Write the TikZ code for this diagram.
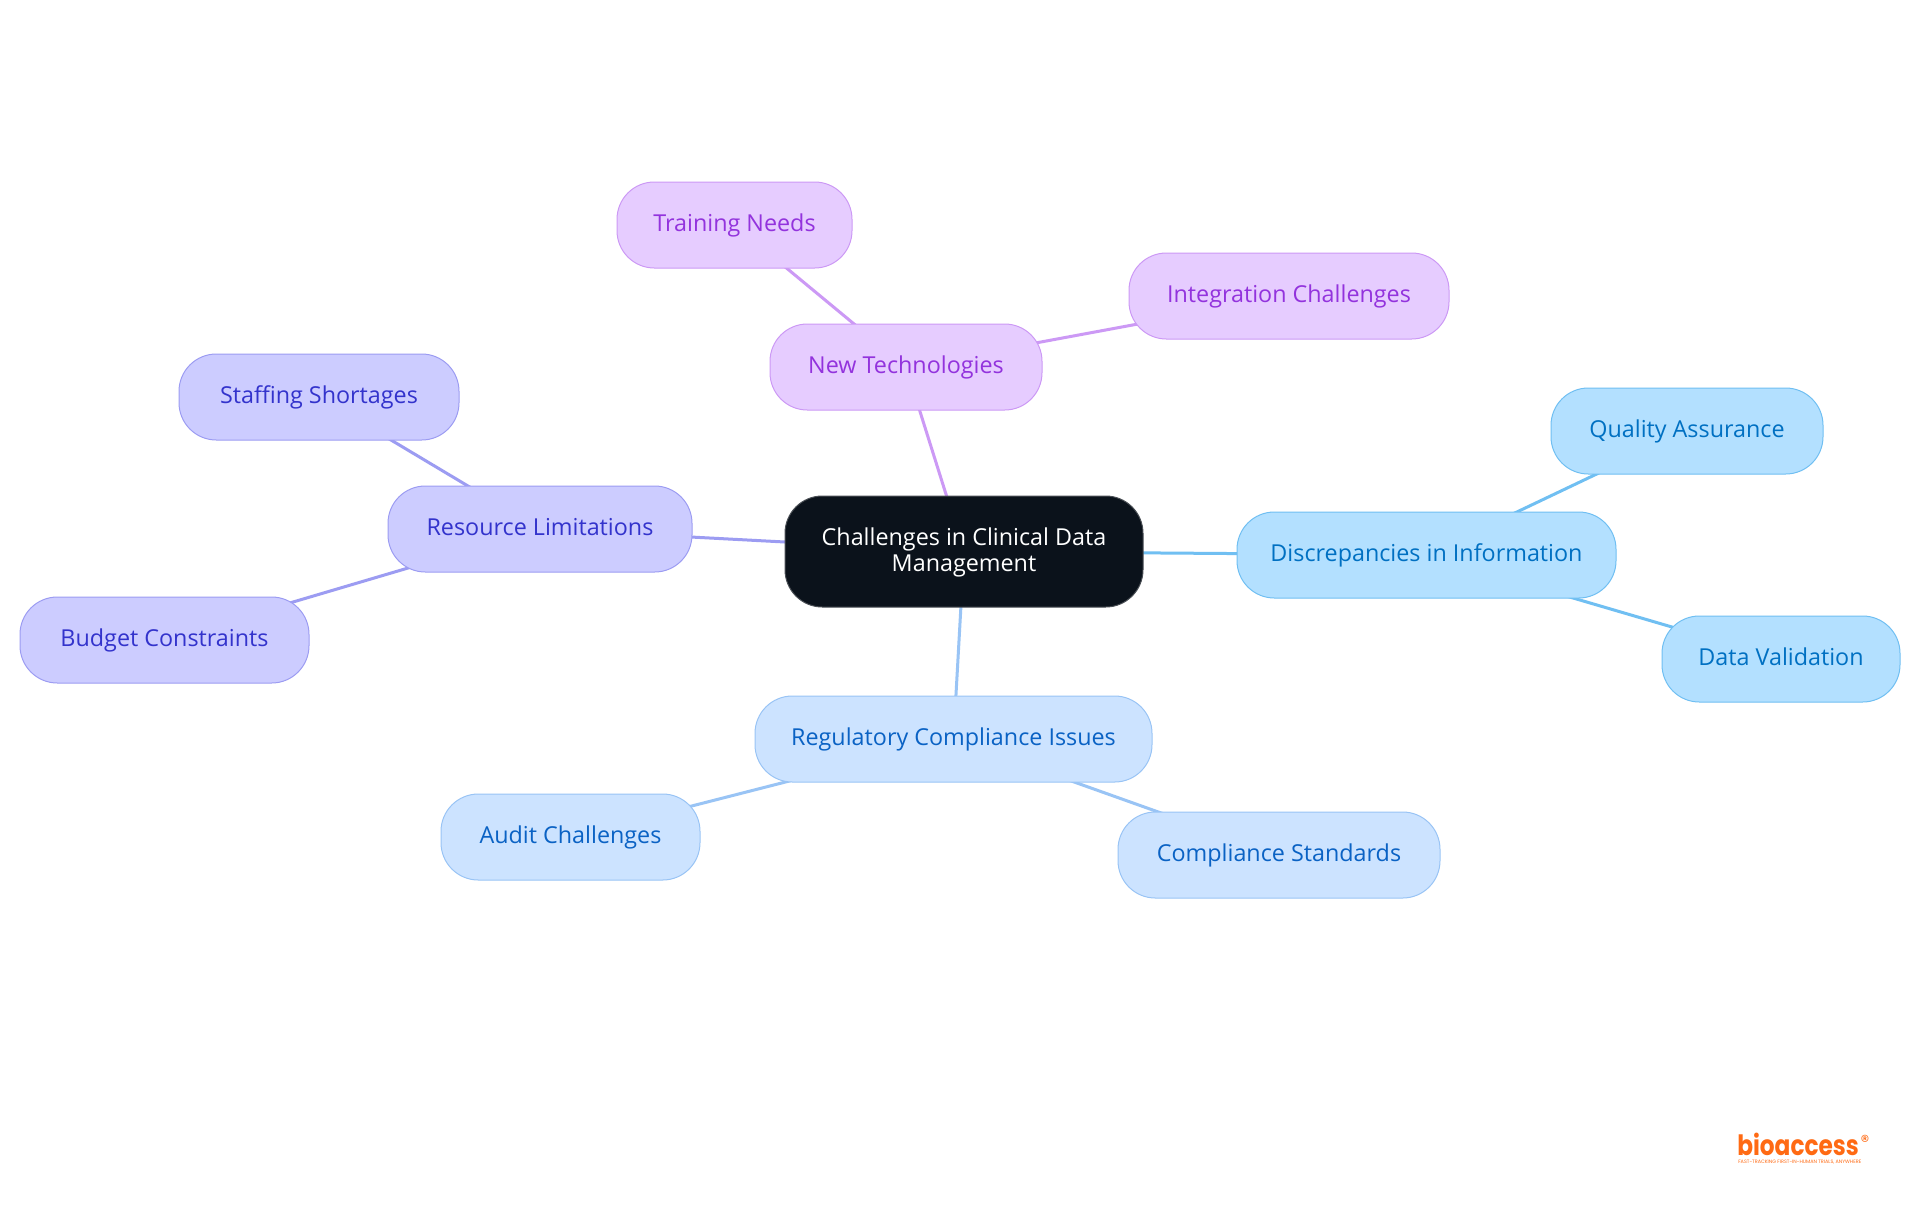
\documentclass[tikz,border=0pt]{standalone}
\usepackage{fontspec}
\setmainfont{Open Sans}
\newfontfamily\logofont{Poppins}
\usetikzlibrary{backgrounds}
\definecolor{rootfill}{HTML}{0B121B}
\definecolor{rootline}{HTML}{4A4F55}
\definecolor{pfill}{HTML}{E6CCFF}
\definecolor{pline}{HTML}{CC99F5}
\definecolor{ptext}{HTML}{9333DD}
\definecolor{ifill}{HTML}{CCCCFF}
\definecolor{iline}{HTML}{9C9CF2}
\definecolor{itext}{HTML}{3333CC}
\definecolor{sfill}{HTML}{B3E0FF}
\definecolor{sline}{HTML}{70BFF2}
\definecolor{stext}{HTML}{0070C2}
\definecolor{bfill}{HTML}{CCE3FF}
\definecolor{bline}{HTML}{99C4F5}
\definecolor{btext}{HTML}{0A62C4}
\definecolor{logoc}{HTML}{FF6A13}
\tikzset{
  x=0.75pt,y=-0.75pt,
  box/.style={rectangle,rounded corners=28pt,inner sep=0pt,line width=0.75pt,align=center,
    text height=9.8pt,text depth=0pt,
    font=\fontsize{17.5}{19.5}\selectfont},
  rootbox/.style={box,fill=rootfill,draw=rootline,text=white,text height=29.3pt},
  pbox/.style={box,fill=pfill,draw=pline,text=ptext},
  ibox/.style={box,fill=ifill,draw=iline,text=itext},
  sbox/.style={box,fill=sfill,draw=sline,text=stext},
  bbox/.style={box,fill=bfill,draw=bline,text=btext},
  wire/.style={line width=2.25pt}
}
\newcommand{\boxat}[7]{% style,name,x1,y1,x2,y2,text
  \pgfmathsetmacro{\bw}{(#5-#3)*0.75}\pgfmathsetmacro{\bh}{(#6-#4)*0.75}
  \node[#1,minimum width=\bw pt,minimum height=\bh pt] (#2) at ({(#3+#5)/2},{(#4+#6)/2}) {#7};}
\begin{document}
\begin{tikzpicture}
\useasboundingbox (0,0) rectangle (1920,1215);
\boxat{rootbox}{root}{785}{496}{1143}{607}{Challenges in Clinical Data\\Management}
\boxat{pbox}{newtech}{770}{324}{1042}{410}{New Technologies}
\boxat{pbox}{training}{617}{182}{852}{268}{Training Needs}
\boxat{pbox}{integ}{1129}{253}{1449}{339}{Integration Challenges}
\boxat{ibox}{resource}{388}{486}{692}{572}{Resource Limitations}
\boxat{ibox}{staffing}{179}{354}{459}{440}{Staffing Shortages}
\boxat{ibox}{budget}{20}{597}{309}{683}{Budget Constraints}
\boxat{sbox}{discrep}{1237}{512}{1616}{598}{Discrepancies in Information}
\boxat{sbox}{quality}{1551}{388}{1823}{474}{Quality Assurance}
\boxat{sbox}{datav}{1662}{616}{1900}{702}{Data Validation}
\boxat{bbox}{regul}{755}{696}{1152}{782}{Regulatory Compliance Issues}
\boxat{bbox}{audit}{441}{794}{700}{880}{Audit Challenges}
\boxat{bbox}{compl}{1118}{812}{1440}{898}{Compliance Standards}
\node[inner sep=0pt,anchor=base west,text=logoc,font=\logofont\bfseries\fontsize{21}{24}\selectfont] (logo) at (1737,1155) {\scalebox{0.83}[1]{bioaccess}};
\node[inner sep=0pt,anchor=center,text=logoc,font=\logofont\fontsize{13}{14}\selectfont] (reg) at (1865,1141) {®};
\node[inner sep=0pt,anchor=base west,text=logoc,font=\logofont\fontsize{3.65}{4}\selectfont] (tag) at (1738,1163) {FAST-TRACKING FIRST-IN-HUMAN TRIALS, ANYWHERE};
\begin{scope}[on background layer]
\fill[white] (0,0) rectangle (1920,1215);
\draw[wire,pline] (root.center) -- (newtech.center);
\draw[wire,pline] (newtech.center) -- (training.center);
\draw[wire,pline] (newtech.center) -- (integ.center);
\draw[wire,iline] (root.center) -- (resource.center);
\draw[wire,iline] (resource.center) -- (staffing.center);
\draw[wire,iline] (resource.center) -- (budget.center);
\draw[wire,sline] (root.center) -- (discrep.center);
\draw[wire,sline] (discrep.center) -- (quality.center);
\draw[wire,sline] (discrep.center) -- (datav.center);
\draw[wire,bline] (root.center) -- (regul.center);
\draw[wire,bline] (regul.center) -- (audit.center);
\draw[wire,bline] (regul.center) -- (compl.center);
\end{scope}
\end{tikzpicture}
\end{document}
